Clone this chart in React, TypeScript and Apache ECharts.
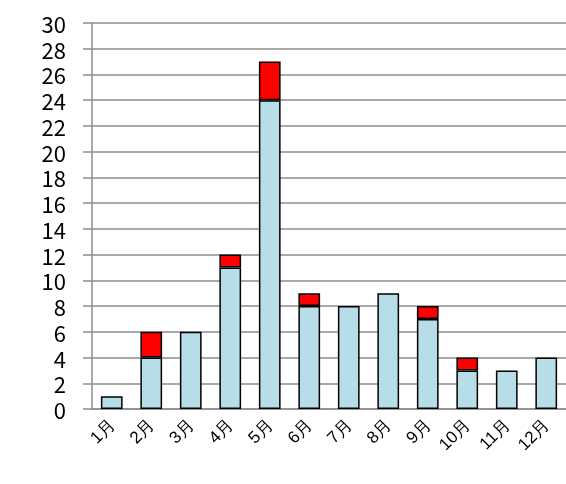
import React, { useEffect, useRef } from "react";
import * as echarts from "echarts";

const months = ["1月", "2月", "3月", "4月", "5月", "6月", "7月", "8月", "9月", "10月", "11月", "12月"];
const pastCumulative = [1, 4, 6, 11, 24, 8, 8, 9, 7, 3, 3, 4];
const year2022 = [0, 2, 0, 1, 3, 1, 0, 0, 1, 1, 0, 0];
const seriesNames = ["2022年", "過去累計※"];

const FONT = "Noto Sans CJK JP, sans-serif";
const GRID = "#8c8c8c";

export default function App() {
  const ref = useRef<HTMLDivElement>(null);
  useEffect(() => {
    if (!ref.current) return;
    const chart = echarts.init(ref.current, undefined, { renderer: "svg" });
    chart.setOption({
      animation: false,
      grid: { left: 92, right: -6, top: 23, bottom: 75, containLabel: false },
      xAxis: {
        type: "category",
        data: months,
        axisLine: { lineStyle: { color: GRID, width: 1.5 } },
        axisTick: { length: 6, lineStyle: { color: GRID, width: 1.5 } },
        axisLabel: { rotate: 45, fontSize: 17, interval: 0, margin: 13, color: "#000" },
      },
      yAxis: {
        type: "value",
        min: 0,
        max: 30,
        interval: 2,
        axisLine: { show: true, lineStyle: { color: GRID, width: 1.5 } },
        axisTick: { show: true, length: 9, lineStyle: { color: GRID, width: 1.5 } },
        axisLabel: { fontSize: 22, color: "#000", margin: 26, fontFamily: FONT },
        splitLine: { show: true, lineStyle: { color: GRID, width: 1.5 } },
      },
      series: [
        {
          name: seriesNames[1],
          type: "bar",
          stack: "total",
          data: pastCumulative,
          barWidth: "55%",
          itemStyle: { color: "#b7dde8", borderColor: "#000", borderWidth: 1.5 },
        },
        {
          name: seriesNames[0],
          type: "bar",
          stack: "total",
          data: year2022.map((v) => (v === 0 ? null : v)),
          barWidth: "55%",
          itemStyle: { color: "#ff0000", borderColor: "#000", borderWidth: 1.5 },
        },
      ],
    });
    return () => chart.dispose();
  }, []);
  return <div ref={ref} style={{ position: "fixed", left: 0, top: 0, width: 566, height: 484 }} />;
}
